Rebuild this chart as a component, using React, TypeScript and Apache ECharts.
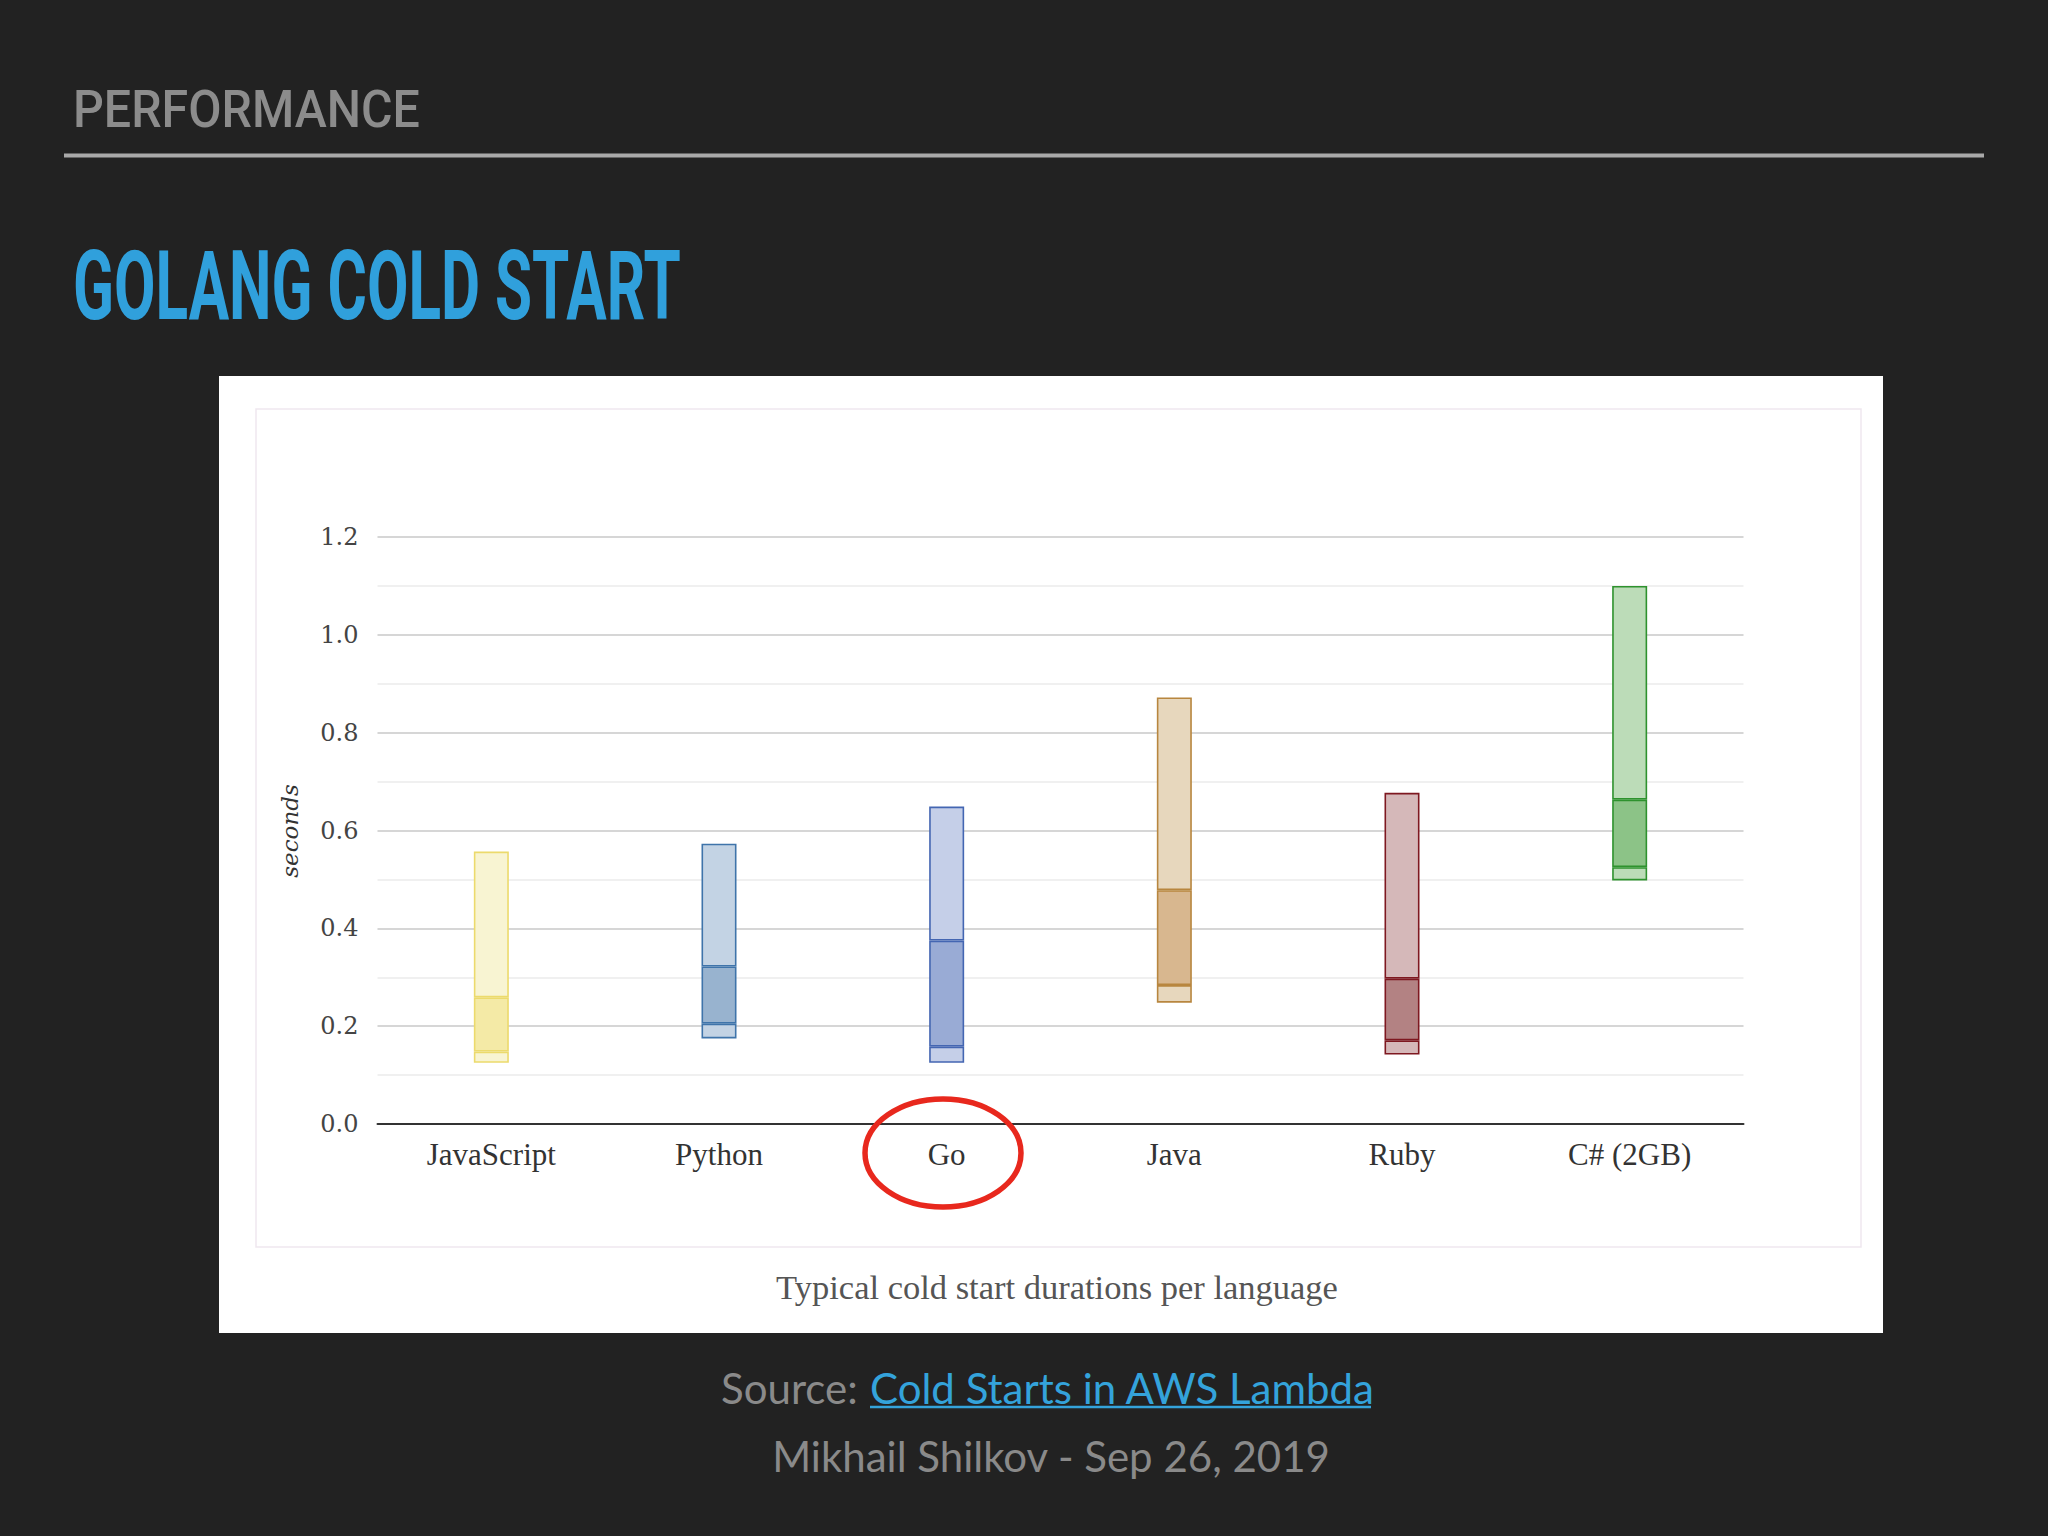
import React, { useEffect, useRef } from "react";
import * as echarts from "echarts";

const categories = ["JavaScript", "Python", "Go", "Java", "Ruby", "C# (2GB)"];
const minValues = [0.125, 0.175, 0.125, 0.248, 0.142, 0.498];
const lowerValues = [0.148, 0.205, 0.158, 0.284, 0.171, 0.525];
const upperValues = [0.259, 0.322, 0.375, 0.478, 0.297, 0.663];
const maxValues = [0.557, 0.573, 0.649, 0.872, 0.677, 1.1];

const borderColors = ["#ecda6c", "#3f74aa", "#4466b2", "#b8863f", "#7e1820", "#2e922e"];
const lightFills = ["#f8f4d2", "#c3d3e4", "#c5cfe8", "#e7d7bd", "#d5b8b9", "#bcdcb8"];
const darkFills = ["#f4eaa6", "#98b3cf", "#99abd5", "#d8b78f", "#b38283", "#8cc387"];

const yTicks = [0, 0.2, 0.4, 0.6, 0.8, 1.0, 1.2];

function seg(values: number[], fills: string[], bw: number) {
  return values.map((v, i) => ({
    value: v,
    itemStyle: { color: fills[i], borderColor: borderColors[i], borderWidth: bw },
  }));
}

export default function App() {
  const ref = useRef<HTMLDivElement>(null);
  useEffect(() => {
    if (!ref.current) return;
    const chart = echarts.init(ref.current, undefined, { renderer: "svg" });
    const base = minValues;
    const s1 = lowerValues.map((v, i) => +(v - minValues[i]).toFixed(4));
    const s2 = upperValues.map((v, i) => +(v - lowerValues[i]).toFixed(4));
    const s3 = maxValues.map((v, i) => +(v - upperValues[i]).toFixed(4));
    chart.setOption({
      animation: false,
      backgroundColor: "#222222",
      grid: { left: 377.5, right: 304.5, top: 537, bottom: 412 },
      xAxis: {
        type: "category",
        data: categories,
        axisLine: { lineStyle: { color: "#333", width: 2 } },
        axisTick: { show: false },
        axisLabel: {
          color: "#333",
          fontFamily: "Liberation Serif",
          fontSize: 31,
          margin: 15,
        },
      },
      yAxis: {
        type: "value",
        min: 0,
        max: yTicks[yTicks.length - 1],
        interval: 0.2,
        axisLine: { show: false },
        axisTick: { show: false },
        axisLabel: {
          color: "#444",
          fontFamily: "DejaVu Serif",
          fontSize: 24,
          margin: 19,
          formatter: (v: number) => v.toFixed(1),
        },
        splitLine: { lineStyle: { color: "#c8c8c8", width: 1.6 } },
        minorTick: { show: false, splitNumber: 2 },
        minorSplitLine: { show: true, lineStyle: { color: "#ebebeb", width: 1.6 } },
      },
      series: [
        {
          type: "bar",
          stack: "box",
          barWidth: 35,
          data: base,
          itemStyle: { color: "transparent" },
          silent: true,
        },
        { type: "bar", stack: "box", barWidth: 35, data: seg(s1, lightFills, 1.6) },
        { type: "bar", stack: "box", barWidth: 35, data: seg(s2, darkFills, 1.6) },
        { type: "bar", stack: "box", barWidth: 35, data: seg(s3, lightFills, 1.6) },
      ],
      graphic: [
        {
          type: "rect",
          z: -10,
          shape: { x: 219, y: 376, width: 1664, height: 957 },
          style: { fill: "#ffffff" },
        },
        {
          type: "rect",
          z: -9,
          shape: { x: 256, y: 409, width: 1605, height: 838 },
          style: { fill: "none", stroke: "#efe8ef", lineWidth: 1.5 },
        },
        {
          type: "text",
          x: 73,
          y: 109,
          scaleX: 0.93,
          style: {
            text: "PERFORMANCE",
            fontFamily: "Roboto",
            fontWeight: 500,
            fontSize: 52,
            fill: "#8c8c8c",
            align: "left",
            verticalAlign: "middle",
          },
        },
        {
          type: "line",
          shape: { x1: 64, y1: 155.5, x2: 1984, y2: 155.5 },
          style: { stroke: "#a9a9a9", lineWidth: 4 },
        },
        {
          type: "text",
          x: 73,
          y: 287,
          scaleX: 0.627,
          style: {
            text: "GOLANG COLD START",
            fontFamily: "Roboto",
            fontWeight: 700,
            fontSize: 96,
            fill: "#30a0dc",
            align: "left",
            verticalAlign: "middle",
          },
        },
        {
          type: "text",
          x: 290,
          y: 831,
          rotation: Math.PI / 2,
          style: {
            text: "seconds",
            fontFamily: "DejaVu Serif",
            fontStyle: "italic",
            fontSize: 23,
            fill: "#333",
            align: "center",
            verticalAlign: "middle",
          },
        },
        {
          type: "text",
          x: 1057,
          y: 1287,
          style: {
            text: "Typical cold start durations per language",
            fontFamily: "Liberation Serif",
            fontSize: 34.5,
            fill: "#555",
            align: "center",
            verticalAlign: "middle",
          },
        },
        {
          type: "text",
          x: 721,
          y: 1388,
          style: {
            text: "Source:",
            fontFamily: "Lato",
            fontSize: 42,
            fill: "#8a8a8a",
            align: "left",
            verticalAlign: "middle",
          },
        },
        {
          type: "text",
          x: 870,
          y: 1388,
          style: {
            text: "Cold Starts in AWS Lambda",
            fontFamily: "Lato",
            fontSize: 42,
            fill: "#34a3db",
            align: "left",
            verticalAlign: "middle",
          },
        },
        {
          type: "line",
          shape: { x1: 870, y1: 1407, x2: 1371, y2: 1407 },
          style: { stroke: "#34a3db", lineWidth: 2.5 },
        },
        {
          type: "text",
          x: 1051,
          y: 1456,
          style: {
            text: "Mikhail Shilkov - Sep 26, 2019",
            fontFamily: "Lato",
            fontSize: 42,
            fill: "#8a8a8a",
            align: "center",
            verticalAlign: "middle",
          },
        },
        {
          type: "ellipse",
          z: 100,
          shape: { cx: 943, cy: 1153, rx: 78, ry: 54 },
          style: { fill: "none", stroke: "#e8281d", lineWidth: 5.5 },
        },
      ],
    });
    return () => chart.dispose();
  }, []);
  return (
    <div
      ref={ref}
      style={{ position: "fixed", left: 0, top: 0, width: 2048, height: 1536 }}
    />
  );
}
